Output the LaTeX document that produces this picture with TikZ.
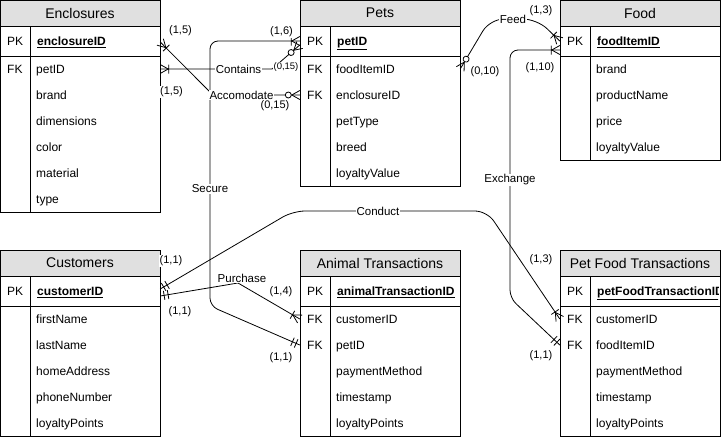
\documentclass[tikz,border=0pt]{standalone}
\usepackage{fontspec}
\setmainfont{Liberation Sans}
\usetikzlibrary{calc}

\definecolor{hdr}{HTML}{E0E0E0}

% crow's foot notation tips (the tip points into the entity)
\pgfdeclarearrow{
  name = ERonemany,
  setup code = {
    \pgfarrowssettipend{0pt}
    \pgfarrowssetlineend{0pt}
    \pgfarrowssetbackend{-10pt}
    \pgfarrowsupperhullpoint{0pt}{5pt}
    \pgfarrowsupperhullpoint{-10pt}{5pt}
  },
  drawing code = {
    \pgfpathmoveto{\pgfqpoint{0pt}{4.5pt}}
    \pgfpathlineto{\pgfqpoint{-8pt}{0pt}}
    \pgfpathlineto{\pgfqpoint{0pt}{-4.5pt}}
    \pgfpathmoveto{\pgfqpoint{-8.5pt}{4.5pt}}
    \pgfpathlineto{\pgfqpoint{-8.5pt}{-4.5pt}}
    \pgfusepathqstroke
  },
  defaults = {}
}
\pgfdeclarearrow{
  name = ERzeromany,
  setup code = {
    \pgfarrowssettipend{0pt}
    \pgfarrowssetlineend{0pt}
    \pgfarrowssetbackend{-16pt}
    \pgfarrowsupperhullpoint{0pt}{5pt}
    \pgfarrowsupperhullpoint{-16pt}{5pt}
  },
  drawing code = {
    \pgfpathmoveto{\pgfqpoint{0pt}{4.5pt}}
    \pgfpathlineto{\pgfqpoint{-8pt}{0pt}}
    \pgfpathlineto{\pgfqpoint{0pt}{-4.5pt}}
    \pgfusepathqstroke
    \pgfpathcircle{\pgfqpoint{-11.5pt}{0pt}}{3pt}
    \pgfsetfillcolor{white}
    \pgfusepathqfillstroke
  },
  defaults = {}
}
\pgfdeclarearrow{
  name = ERmandone,
  setup code = {
    \pgfarrowssettipend{0pt}
    \pgfarrowssetlineend{0pt}
    \pgfarrowssetbackend{-10pt}
    \pgfarrowsupperhullpoint{0pt}{5pt}
    \pgfarrowsupperhullpoint{-10pt}{5pt}
  },
  drawing code = {
    \pgfpathmoveto{\pgfqpoint{-4pt}{4.5pt}}
    \pgfpathlineto{\pgfqpoint{-4pt}{-4.5pt}}
    \pgfpathmoveto{\pgfqpoint{-8pt}{4.5pt}}
    \pgfpathlineto{\pgfqpoint{-8pt}{-4.5pt}}
    \pgfusepathqstroke
  },
  defaults = {}
}

\tikzset{
  con/.style={draw, line width=0.8pt},
  border/.style={draw, line width=1pt},
  rowbox/.style={minimum width=160pt, minimum height=26pt, inner sep=0pt},
  hdrtext/.style={inner sep=0pt, font=\fontsize{14}{16}\selectfont},
  keytext/.style={anchor=base west, inner sep=0pt, font=\fontsize{12}{14}\selectfont},
  fieldtext/.style={anchor=base west, inner sep=0pt, font=\fontsize{12}{14}\selectfont},
  pktext/.style={anchor=base west, inner sep=0pt, font=\fontsize{12}{14}\selectfont\bfseries},
  rel/.style={fill=white, inner sep=1pt, font=\fontsize{11.5}{13}\selectfont},
  card/.style={fill=white, inner sep=0.5pt, font=\fontsize{11}{13}\selectfont},
  smallcard/.style={fill=white, inner sep=0.5pt, font=\fontsize{9.5}{11}\selectfont},
}

% entity table: #1 name, #2 left, #3 top, #4 title, #5 primary key,
% #6 number of further rows, #7 rows as key/field
\newcommand\ertable[7]{%
  \path[border, fill=hdr] (#2,#3) rectangle ++(160,26);
  \node[hdrtext] (#1-title) at (#2+80,#3+13) {#4};
  \node[rowbox, minimum height=30pt] (#1-pk) at (#2+80,#3+41) {};
  \node[keytext] (#1-pkkey) at (#2+7,#3+45.3) {PK};
  \begin{scope}
    % long keys are cut at the cell's inner edge
    \clip (#2,#3+26) rectangle (#2+158,#3+56);
    \node[pktext] (#1-pkfield) at (#2+37,#3+45.3) {\underline{#5}};
  \end{scope}
  \foreach[count=\i] \k/\f in {#7} {
    \node[rowbox] (#1-\i) at (#2+80,#3+43+26*\i) {};
    \node[keytext] (#1-\i-key) at (#2+7,#3+47.3+26*\i) {\k};
    \node[fieldtext] (#1-\i-field) at (#2+36,#3+47.3+26*\i) {\f};
  }
  \path[border] (#2,#3+26) rectangle (#2+160,#3+56+26*#6);
  \path[border] (#2,#3+56) -- (#2+160,#3+56);
  \path[border] (#2+30,#3+26) -- (#2+30,#3+56+26*#6);
}

\begin{document}
\begin{tikzpicture}[x=1pt, y=-1pt]
  \fill[white] (0,0) rectangle (721,440);
  \useasboundingbox (0,0) rectangle (721,440);

  \ertable{enc}{0}{0}{Enclosures}{enclosureID}{6}
    {FK/petID, /brand, /dimensions, /color, /material, /type}
  \ertable{pets}{300}{0}{Pets}{petID}{5}
    {FK/foodItemID, FK/enclosureID, /petType, /breed, /loyaltyValue}
  \ertable{food}{560}{0}{Food}{foodItemID}{4}
    {/brand, /productName, /price, /loyaltyValue}
  \ertable{cust}{0}{250}{Customers}{customerID}{5}
    {/firstName, /lastName, /homeAddress, /phoneNumber, /loyaltyPoints}
  \ertable{at}{300}{250}{Animal Transactions}{animalTransactionID}{5}
    {FK/customerID, FK/petID, /paymentMethod, /timestamp, /loyaltyPoints}
  \ertable{pft}{560}{250}{Pet Food Transactions}{petFoodTransactionID}{5}
    {FK/customerID, FK/foodItemID, /paymentMethod, /timestamp, /loyaltyPoints}

  % Secure: Pets -> Animal Transactions
  \draw[con, rounded corners=8pt, ERonemany-ERmandone]
    (pets-pk.west) -- (210,41) -- (210,306) -- (at-2.west);
  \node[rel] (lblSecure) at (210,189) {Secure};

  % Contains: Enclosures -> Pets
  \draw[con, ERonemany-ERzeromany]
    (enc-1.east) -- (272,69) -- ([yshift=-4pt]pets-pk.west);
  \node[rel] (lblContains) at (238.5,69) {Contains};

  % Accomodate: Enclosures -> Pets
  \draw[con, ERonemany-ERzeromany]
    ([yshift=-1pt]enc-pk.east) -- (213,95) -- (pets-2.west);
  \node[rel] (lblAccomodate) at (241.5,95) {Accomodate};

  % Feed: Pets -> Food
  \draw[con, rounded corners=14pt, ERzeromany-ERonemany]
    (pets-1.east) -- (490,19) -- (537,19) -- (food-pk.west);
  \node[rel] (lblFeed) at (513,19) {Feed};

  % Exchange: Food -> Pet Food Transactions
  \draw[con, rounded corners=8pt, ERonemany-ERmandone]
    ([yshift=-9pt]food-pk.west) -- (510,50) -- (510,298) -- (pft-2.west);
  \node[rel] (lblExchange) at (510,180) {Exchange};

  % Conduct: Customers -> Pet Food Transactions
  \draw[con, rounded corners=12pt, ERmandone-ERonemany]
    ([yshift=2pt]cust-pk.east) -- (293,211) -- (487,211) -- (pft-1.west);
  \node[rel] (lblConduct) at (378,211) {Conduct};

  % Purchase: Customers -> Animal Transactions
  \draw[con, ERmandone-ERonemany]
    ([yshift=-5pt]cust-pk.east) -- (238,283) -- (at-1.west);
  \node[rel] (lblPurchase) at (242,278) {Purchase};

  % cardinalities
  \node[card] (c1) at (180.5,31) {(1,5)};
  \node[card] (c2) at (171.5,92) {(1,5)};
  \node[card] (c3) at (281.5,32) {(1,6)};
  \node[smallcard] (c4) at (286,67) {(0,15)};
  \node[card] (c5) at (275,106) {(0,15)};
  \node[card] (c6) at (485,72) {(0,10)};
  \node[card] (c7) at (541,11) {(1,3)};
  \node[card] (c8) at (540,68) {(1,10)};
  \node[card] (c9) at (171,261) {(1,1)};
  \node[card] (c10) at (180,312) {(1,1)};
  \node[card] (c11) at (281,292) {(1,4)};
  \node[card] (c12) at (281,358) {(1,1)};
  \node[card] (c13) at (541,260) {(1,3)};
  \node[card] (c14) at (541,356) {(1,1)};
\end{tikzpicture}
\end{document}
